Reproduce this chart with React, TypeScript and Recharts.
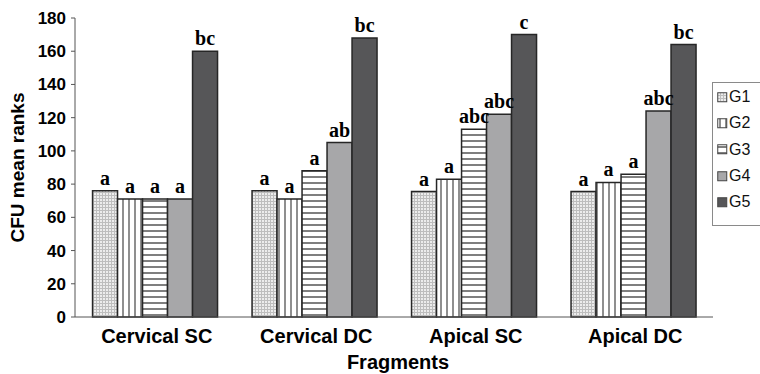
import React from 'react';
import { BarChart, Bar, XAxis, YAxis, LabelList, Legend } from 'recharts';

const categories = ['Cervical SC', 'Cervical DC', 'Apical SC', 'Apical DC'];
const seriesNames = ['G1', 'G2', 'G3', 'G4', 'G5'];
const g1 = [76, 76, 75.5, 75.5];
const g2 = [71, 71, 83, 81];
const g3 = [71, 88, 113, 86];
const g4 = [71, 105, 122, 124];
const g5 = [160, 168, 170, 164];
const g1Labels = ['a', 'a', 'a', 'a'];
const g2Labels = ['a', 'a', 'a', 'a'];
const g3Labels = ['a', 'a', 'abc', 'a'];
const g4Labels = ['a', 'ab', 'abc', 'abc'];
const g5Labels = ['bc', 'bc', 'c', 'bc'];
const yTicks = [0, 20, 40, 60, 80, 100, 120, 140, 160, 180];
const edgeTicks = [0, 1, 2, 3, 4];

const values = [g1, g2, g3, g4, g5];
const labels = [g1Labels, g2Labels, g3Labels, g4Labels, g5Labels];

const data = categories.map((c, i) => {
  const row: any = { name: c };
  seriesNames.forEach((s, k) => {
    row[s] = values[k][i];
    row[s + 'L'] = labels[k][i];
  });
  return row;
});

const fills = ['url(#patG1)', 'url(#patG2)', 'url(#patG3)', '#a7a7a9', '#565658'];
const STROKE = '#262626';
const SANS = '"Liberation Sans", Arial, sans-serif';
const SERIF = '"Liberation Serif", "Times New Roman", serif';

const Patterns = () => (
  <svg width={0} height={0} style={{ position: 'absolute' }}>
    <defs>
      <pattern id="patG1" width={3} height={3} patternUnits="userSpaceOnUse">
        <rect width={3} height={3} fill="#bdbdbd" />
        <rect x={1} y={1} width={2} height={2} fill="#ececec" />
      </pattern>
      <pattern id="patG2" width={6} height={6} patternUnits="userSpaceOnUse">
        <rect width={6} height={6} fill="#ffffff" />
        <rect x={2} y={0} width={2} height={6} fill="#8f8f8f" />
      </pattern>
      <pattern id="patG3" width={6} height={6} patternUnits="userSpaceOnUse">
        <rect width={6} height={6} fill="#ffffff" />
        <rect x={0} y={2} width={6} height={2} fill="#7f7f7f" />
      </pattern>
    </defs>
  </svg>
);

const LegendBox = () => (
  <div
    style={{
      border: '1px solid #8a8a8a',
      background: '#fff',
      width: 60,
      height: 144,
      boxSizing: 'border-box',
      paddingTop: 1,
      paddingLeft: 4,
    }}
  >
    {seriesNames.map((s, k) => (
      <div
        key={s}
        style={{
          display: 'flex',
          alignItems: 'center',
          height: 26.3,
          fontFamily: SANS,
          fontSize: 16,
          color: '#111',
        }}
      >
        <svg width={11} height={11} style={{ marginRight: 1 }}>
          <rect x={0.75} y={0.75} width={9} height={9} fill={fills[k]} stroke="#444" strokeWidth={1} />
        </svg>
        <span>{s}</span>
      </div>
    ))}
  </div>
);

export default function App() {
  return (
    <div style={{ position: 'absolute', left: 0, top: 0, width: 760, height: 374, background: '#fff' }}>
      <Patterns />
      <BarChart
        width={760}
        height={374}
        data={data}
        margin={{ top: 18, right: 47, left: 0, bottom: 0 }}
        barCategoryGap="11%"
        barGap={0}
      >
        <XAxis
          xAxisId="edge"
          type="number"
          domain={[0, 4]}
          ticks={edgeTicks}
          tick={false}
          axisLine={false}
          tickSize={5}
          tickLine={{ stroke: '#555' }}
          height={0}
          allowDataOverflow
        />
        <XAxis
          xAxisId="cat"
          dataKey="name"
          height={57}
          tickLine={false}
          tickSize={6}
          tickMargin={6}
          axisLine={{ stroke: '#555', strokeWidth: 1 }}
          tick={{ fill: '#000', fontFamily: SANS, fontSize: 20, fontWeight: 'bold', dx: 2 }}
          interval={0}
          label={{
            value: 'Fragments',
            position: 'center',
            dy: 16,
            dx: 4,
            style: { fill: '#000', fontFamily: SANS, fontSize: 20, fontWeight: 'bold' },
          }}
        />
        <YAxis
          width={75}
          domain={[0, 180]}
          ticks={yTicks}
          interval={0}
          tickSize={4}
          tickMargin={5}
          axisLine={{ stroke: '#555', strokeWidth: 1 }}
          tickLine={{ stroke: '#555' }}
          tick={{ fill: '#000', fontFamily: SANS, fontSize: 17, fontWeight: 'bold' }}
          label={{
            value: 'CFU mean ranks',
            angle: -90,
            position: 'center',
            dx: -20,
            style: { fill: '#000', fontFamily: SANS, fontSize: 19, fontWeight: 'bold', textAnchor: 'middle' },
          }}
        />
        <Legend
          layout="vertical"
          align="center"
          verticalAlign="middle"
          content={() => <LegendBox />}
          wrapperStyle={{ left: 712, top: 82, width: 60, height: 144 }}
        />
        {seriesNames.map((s, k) => (
          <Bar
            key={s}
            xAxisId="cat"
            dataKey={s}
            fill={fills[k]}
            stroke={STROKE}
            strokeWidth={1.5}
            isAnimationActive={false}
          >
            <LabelList
              dataKey={s + 'L'}
              position="top"
              offset={6}
              style={{ fill: '#000', fontFamily: SERIF, fontSize: 20, fontWeight: 'bold' }}
            />
          </Bar>
        ))}
      </BarChart>
    </div>
  );
}
